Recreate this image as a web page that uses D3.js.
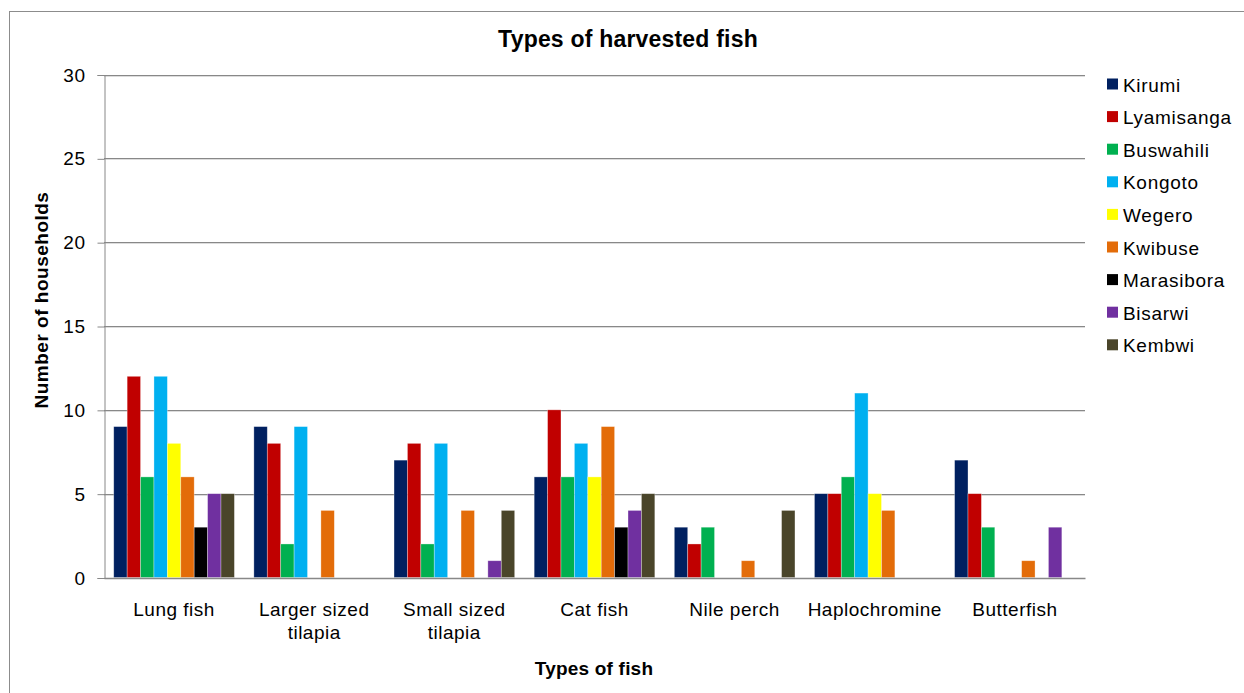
<!DOCTYPE html>
<html>
<head>
<meta charset="utf-8">
<script src="https://cdn.jsdelivr.net/npm/d3@7"></script>
<style>
  html, body { margin: 0; padding: 0; background: #fff; }
  svg { display: block; font-family: "Liberation Sans", Arial, sans-serif; }
</style>
</head>
<body>
<svg id="chart" width="1244" height="693"></svg>
<script>
// Fish categories along the x axis (label lines split for wrapping)
const categories = ["Lung fish", "Larger sized tilapia", "Small sized tilapia", "Cat fish", "Nile perch", "Haplochromine", "Butterfish"];
const categoryLines = [["Lung fish"], ["Larger sized", "tilapia"], ["Small sized", "tilapia"], ["Cat fish"], ["Nile perch"], ["Haplochromine"], ["Butterfish"]];

// Villages (series)
const villages = ["Kirumi", "Lyamisanga", "Buswahili", "Kongoto", "Wegero", "Kwibuse", "Marasibora", "Bisarwi", "Kembwi"];
const villageColors = ["#002060", "#C00000", "#00B050", "#00B0F0", "#FFFF00", "#E36C09", "#000000", "#7030A0", "#4A452A"];

// Number of households per village, one entry per fish category
const kirumi     = [9, 9, 7, 6, 3, 5, 7];
const lyamisanga = [12, 8, 8, 10, 2, 5, 5];
const buswahili  = [6, 2, 2, 6, 3, 6, 3];
const kongoto    = [12, 9, 8, 8, 0, 11, 0];
const wegero     = [8, 0, 0, 6, 0, 5, 0];
const kwibuse    = [6, 4, 4, 9, 1, 4, 1];
const marasibora = [3, 0, 0, 3, 0, 0, 0];
const bisarwi    = [5, 0, 1, 4, 0, 0, 3];
const kembwi     = [5, 0, 4, 5, 4, 0, 0];
const seriesValues = [kirumi, lyamisanga, buswahili, kongoto, wegero, kwibuse, marasibora, bisarwi, kembwi];

const yTicks = [0, 5, 10, 15, 20, 25, 30];

const svg = d3.select("#chart");

// Outer frame
svg.append("rect")
  .attr("x", 9.5).attr("y", 11.5)
  .attr("width", 1250).attr("height", 700)
  .attr("fill", "none").attr("stroke", "#8c8c8c").attr("stroke-width", 1);

const plot = { left: 104, right: 1085, top: 74.5, bottom: 577.5 };

const y = d3.scaleLinear().domain([0, 30]).range([plot.bottom, plot.top]);
const x0 = d3.scaleBand().domain(categories).range([plot.left, plot.right])
  .paddingInner(0.139).paddingOuter(0.0695);
const x1 = d3.scaleBand().domain(villages).range([0, x0.bandwidth()]).padding(0);

// Gridlines
const grid = svg.append("g");
yTicks.filter(t => t > 0).forEach(t => {
  grid.append("line")
    .attr("x1", plot.left).attr("x2", plot.right)
    .attr("y1", Math.round(y(t)) + 1.5).attr("y2", Math.round(y(t)) + 1.5)
    .attr("stroke", "#dcdcdc").attr("stroke-width", 1);
  grid.append("line")
    .attr("x1", plot.left).attr("x2", plot.right)
    .attr("y1", Math.round(y(t)) + 0.5).attr("y2", Math.round(y(t)) + 0.5)
    .attr("stroke", "#888").attr("stroke-width", 1);
});

// Bars
const groups = svg.append("g").selectAll("g")
  .data(categories)
  .join("g")
  .attr("transform", d => `translate(${x0(d)},0)`);

groups.selectAll("rect")
  .data((c, ci) => villages.map((v, vi) => ({ village: v, value: seriesValues[vi][ci], color: villageColors[vi] })))
  .join("rect")
  .filter(d => d.value > 0)
  .attr("x", d => x1(d.village))
  .attr("y", d => y(d.value))
  .attr("width", x1.bandwidth())
  .attr("height", d => y(0) - y(d.value))
  .attr("fill", d => d.color)
  .attr("stroke", "rgba(255,255,255,0.45)")
  .attr("stroke-width", 0.7);

// Y axis
const yAxis = d3.axisLeft(y).tickValues(yTicks).tickSize(7).tickPadding(12);
const yg = svg.append("g")
  .attr("transform", `translate(${plot.left + 0.5},0.5)`)
  .call(yAxis);
yg.select(".domain").attr("stroke", "#888");
yg.selectAll(".tick line").attr("stroke", "#888");
yg.selectAll(".tick text")
  .attr("font-size", 19).attr("fill", "#000")
  .attr("letter-spacing", 0.5)
  .attr("font-family", "Liberation Sans, Arial, sans-serif");

// X axis line
const xAxis = d3.axisBottom(x0).tickSize(0).tickFormat("");
const xg = svg.append("g")
  .attr("transform", `translate(0,${plot.bottom + 0.5})`)
  .call(xAxis);
xg.select(".domain").attr("stroke", "#888").attr("stroke-width", 1.5);

// Category labels
const labels = svg.append("g");
categories.forEach((c, i) => {
  const cx = x0(c) + x0.bandwidth() / 2;
  const t = labels.append("text")
    .attr("x", cx)
    .attr("y", 616)
    .attr("text-anchor", "middle")
    .attr("font-size", 19)
    .attr("letter-spacing", 0.5)
    .attr("fill", "#000");
  categoryLines[i].forEach((line, li) => {
    t.append("tspan")
      .attr("x", cx)
      .attr("dy", li === 0 ? 0 : 23)
      .text(line);
  });
});

// Titles
svg.append("text")
  .attr("x", 628).attr("y", 47)
  .attr("text-anchor", "middle")
  .attr("font-size", 23).attr("font-weight", "bold")
  .attr("letter-spacing", 0.2)
  .text("Types of harvested fish");

svg.append("text")
  .attr("x", 594).attr("y", 675)
  .attr("text-anchor", "middle")
  .attr("font-size", 19).attr("font-weight", "bold")
  .attr("letter-spacing", 0.2)
  .text("Types of fish");

svg.append("text")
  .attr("transform", "translate(48,300) rotate(-90)")
  .attr("text-anchor", "middle")
  .attr("font-size", 19).attr("font-weight", "bold")
  .attr("letter-spacing", 0.5)
  .text("Number of households");

// Legend
const legend = svg.append("g").attr("transform", "translate(1107,84)");
villages.forEach((v, i) => {
  const row = legend.append("g").attr("transform", `translate(0,${i * 32.6})`);
  row.append("rect")
    .attr("x", 0).attr("y", -5.5)
    .attr("width", 11).attr("height", 11)
    .attr("fill", villageColors[i]);
  row.append("text")
    .attr("x", 16).attr("y", 7.5)
    .attr("font-size", 19)
    .attr("letter-spacing", 0.7)
    .attr("fill", "#000")
    .text(v);
});
</script>
</body>
</html>
